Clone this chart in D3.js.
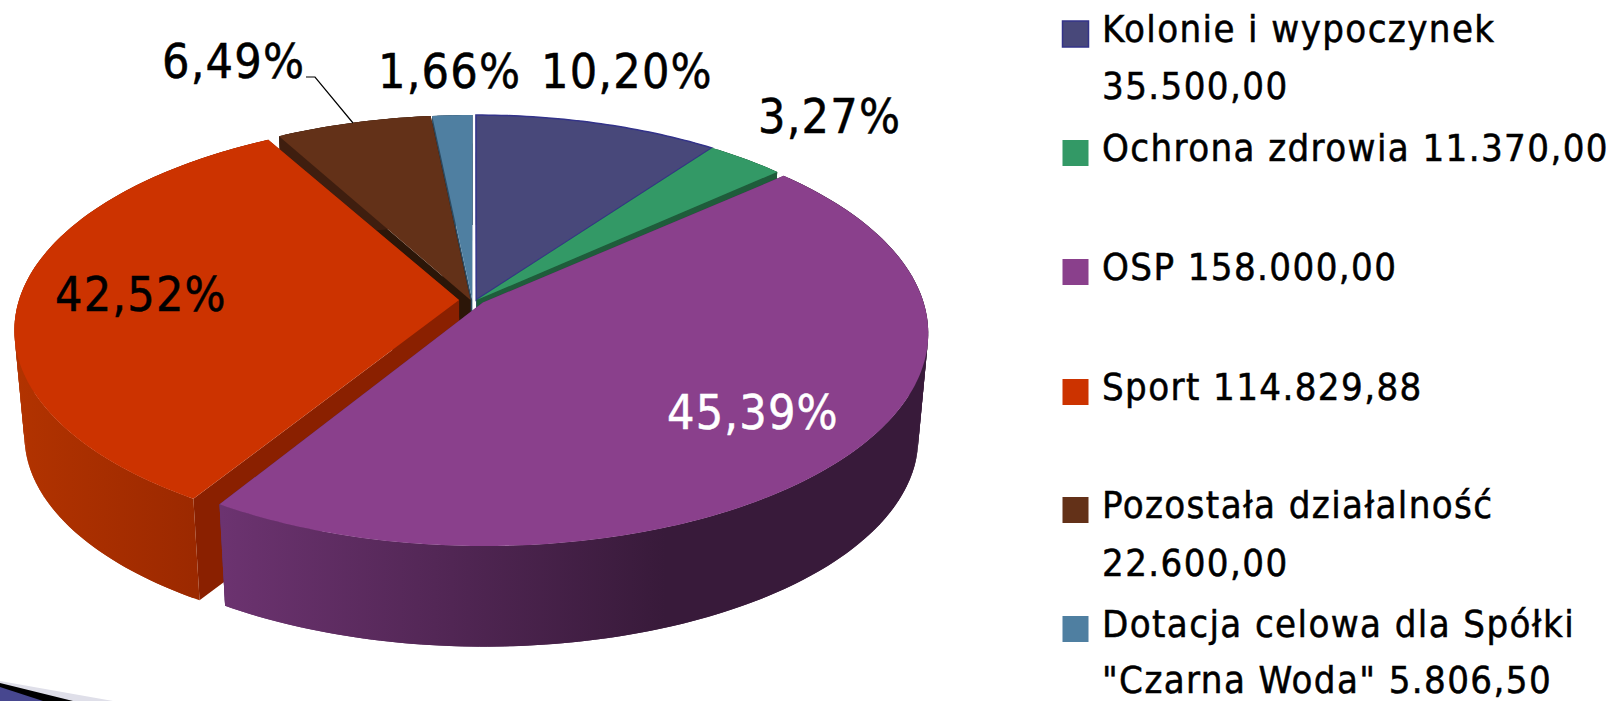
<!DOCTYPE html>
<html>
<head>
<meta charset="utf-8">
<script src="https://cdn.jsdelivr.net/npm/d3@7"></script>
<style>
  html, body { margin: 0; background: #fff; }
  svg { display: block; }
  text { font-family: "DejaVu Sans Condensed", "DejaVu Sans", sans-serif; font-stretch: condensed; stroke: currentColor; stroke-width: 0.5; }
</style>
</head>
<body>
<svg id="chart" width="1616" height="701"></svg>
<script>
const categories = ["Kolonie i wypoczynek", "Ochrona zdrowia", "OSP", "Sport", "Pozostała działalność", "Dotacja celowa dla Spółki \"Czarna Woda\""];
const amounts = [35500.00, 11370.00, 158000.00, 114829.88, 22600.00, 5806.50];
const percentLabels = ["10,20%", "3,27%", "45,39%", "42,52%", "6,49%", "1,66%"];
const legendLines = [
  ["Kolonie i wypoczynek", "35.500,00"],
  ["Ochrona zdrowia 11.370,00"],
  ["OSP 158.000,00"],
  ["Sport 114.829,88"],
  ["Pozostała działalność", "22.600,00"],
  ["Dotacja celowa dla Spółki", "\"Czarna Woda\" 5.806,50"]
];
const faceColors = ["#48487a", "#339966", "#8a408c", "#cc3300", "#633118", "#4f7fa1"];
const cutColors = ["#30308a", "#1f5c3b", "#4a2250", "#8a2000", "#2c1608", "#2d4a60"];
const wallFrom = ["#30305a", "#1f5c3b", "#6c3370", "#b23300", "#3f1e0f", "#2d4a60"];
const wallTo = ["#30305a", "#1f5c3b", "#381a3a", "#9c2900", "#3f1e0f", "#2d4a60"];

// layout
const cx = 474, cy = 300, rx = 440, ry = 211.5, persp = 0.1435;
const baseScale = 0.978, baseY = 406;
const offsetU = [0.005, 0.006, 0.02, -0.034, -0.008, -0.004];
const offsetV = [0, 0, -0.012, 0, 0, 0];
const squash = [1, 1, 0.985, 0.975, 1, 1];
const drawOrder = [5, 0, 4, 1, 3, 2];
const labelPos = [[541, 88], [758, 133], [667, 429], [55, 311], [162, 78], [378, 88]];
const legendX = 1062, legendTextX = 1102;
const legendBaselines = [[42, 99], [161], [280], [400], [518, 576], [637, 693]];

const svg = d3.select("#chart");
const arcs = d3.pie().sort(null).value((d) => d)(amounts);

function topPoint(a, r, i) {
  const u = r * Math.sin(a) + offsetU[i];
  const v = r * Math.cos(a) * squash[i] + offsetV[i];
  const w = 1 / (1 + persp * v);
  return [cx + rx * u * w, cy - ry * v * w];
}
function basePoint(p) {
  return [cx + (p[0] - cx) * baseScale, baseY + (p[1] - cy) * baseScale];
}
function arcPoints(d, i) {
  const n = Math.max(8, Math.ceil((d.endAngle - d.startAngle) * 60));
  return d3.range(n + 1).map((k) => topPoint(d.startAngle + (d.endAngle - d.startAngle) * k / n, 1, i));
}
const line = d3.line().curve(d3.curveLinear);

const defs = svg.append("defs");
arcs.forEach((d, i) => {
  const pts = arcPoints(d, i);
  const xs = pts.filter((p) => p[1] > cy - 10).map((p) => p[0]);
  const x0 = i === 2 ? 221 : (d3.min(xs) || 0);
  const x1 = i === 2 ? 665 : (d3.max(xs) || 1);
  const grad = defs.append("linearGradient")
    .attr("id", "wall" + i)
    .attr("gradientUnits", "userSpaceOnUse")
    .attr("x1", x0).attr("x2", x1).attr("y1", 0).attr("y2", 0);
  grad.append("stop").attr("offset", 0).attr("stop-color", wallFrom[i]);
  grad.append("stop").attr("offset", 1).attr("stop-color", wallTo[i]);
});

const pieG = svg.append("g");
drawOrder.forEach((i) => {
  const d = arcs[i];
  const pts = arcPoints(d, i);
  const apex = topPoint(0, 0, i);
  const first = pts[0], last = pts[pts.length - 1];
  const g = pieG.append("g").attr("class", "slice");

  // cut faces
  [first, last].forEach((p) => {
    g.append("path")
      .attr("d", line([apex, p, basePoint(p), basePoint(apex)]) + "Z")
      .attr("fill", cutColors[i]);
  });
  // outer wall, swept in overlapping pieces so no seams show
  g.append("g").selectAll("path")
    .data(pts.slice(0, -1))
    .join("path")
    .attr("d", (p, k) => {
      const q = pts[Math.min(k + 2, pts.length - 1)];
      return line([p, q, basePoint(q), basePoint(p)]) + "Z";
    })
    .attr("fill", "url(#wall" + i + ")");
  // top face
  g.append("path")
    .attr("d", line([apex].concat(pts)) + "Z")
    .attr("fill", faceColors[i])
    .attr("stroke", i === 0 ? "#33338a" : "none")
    .attr("stroke-width", i === 0 ? 1.5 : 0);
});

// leader for the 6,49% label
svg.append("path")
  .attr("d", line([[306, 77], [315, 77], [353, 123]]))
  .attr("fill", "none")
  .attr("stroke", "#000")
  .attr("stroke-width", 1.2);

svg.append("g").selectAll("text")
  .data(percentLabels)
  .join("text")
  .attr("x", (d, i) => labelPos[i][0])
  .attr("y", (d, i) => labelPos[i][1])
  .attr("font-size", 48)
  .attr("letter-spacing", 1.2)
  .attr("fill", (d, i) => i === 2 ? "#fff" : "#000")
  .attr("color", (d, i) => i === 2 ? "#fff" : "#000")
  .text((d) => d);

const legend = svg.append("g").selectAll("g")
  .data(categories)
  .join("g");

legend.append("rect")
  .attr("x", legendX + 0.5)
  .attr("y", (d, i) => legendBaselines[i][0] - 21)
  .attr("width", 26)
  .attr("height", 26)
  .attr("fill", (d, i) => faceColors[i])
  .attr("stroke", (d, i) => i === 0 ? "#33338a" : "none")
  .attr("stroke-width", 1.5);

legend.each(function (d, i) {
  d3.select(this).selectAll("text")
    .data(legendLines[i])
    .join("text")
    .attr("x", legendTextX)
    .attr("y", (t, j) => legendBaselines[i][j])
    .attr("font-size", 38)
    .attr("letter-spacing", 1.4)
    .attr("fill", "#000")
    .attr("color", "#000")
    .text((t) => t);
});

// piece of the slide decoration in the lower left corner
const cornerColors = ["#dfdfe9", "#000000", "#47478f"];
const cornerEdges = [[681, 113], [683, 73], [687, 43]];
svg.append("g").selectAll("path")
  .data(cornerEdges)
  .join("path")
  .attr("d", (d) => line([[0, d[0]], [d[1], 701], [0, 701]]) + "Z")
  .attr("fill", (d, i) => cornerColors[i]);
</script>
</body>
</html>
